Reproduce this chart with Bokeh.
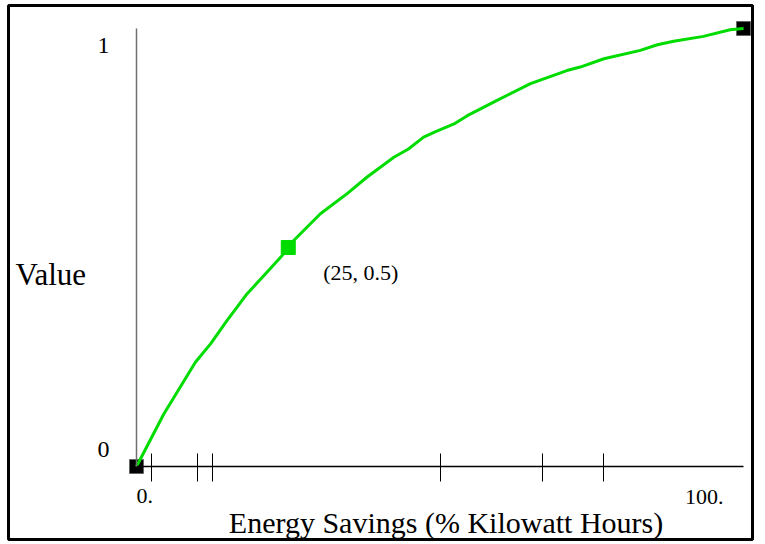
from bokeh.plotting import figure
from bokeh.models import Range1d, LinearAxis, FixedTicker, Label
from bokeh.embed import file_html
from bokeh.resources import INLINE

# curve data (Energy Savings % vs Value)
x_vals = [0, 4.5, 9.7, 12.2, 14.9, 18.2, 21.0, 24.0, 25, 25.9, 30.3, 34.7, 38.0,
          42.4, 44.8, 47.3, 49.0, 52.3, 54.5, 59.4, 64.9, 70.9, 73.1, 77.0, 83.0,
          85.8, 88.5, 93.4, 97.8, 100]
y_vals = [0, 0.120, 0.238, 0.280, 0.333, 0.394, 0.436, 0.482, 0.5, 0.516, 0.577,
          0.623, 0.661, 0.706, 0.725, 0.752, 0.763, 0.782, 0.801, 0.836, 0.874,
          0.904, 0.912, 0.931, 0.950, 0.963, 0.971, 0.982, 0.997, 1.0]

end_x = [0, 100]
end_y = [0, 1]
mid_x = [25]
mid_y = [0.5]
mid_label = "(25, 0.5)"

x_ticks = [2.5, 10, 12.5, 50, 66.9, 77]
x_tick_labels = ["0.", "100."]
y_tick_labels = ["0", "1"]
x_title = "Energy Savings (% Kilowatt Hours)"
y_title = "Value"

FONT = "Liberation Serif"
GREEN = "#00dc00"

p = figure(width=760, height=542, output_backend="svg", toolbar_location=None,
           x_range=Range1d(-21.087, 101.48), y_range=Range1d(-0.16667, 1.05251),
           x_axis_type=None, y_axis_type=None,
           min_border_left=8, min_border_right=8, min_border_top=5, min_border_bottom=3,
           background_fill_color="white", border_fill_color="white")
p.grid.visible = False
p.outline_line_color = "black"
p.outline_line_width = 3

# x axis at y=0
xa = LinearAxis(fixed_location=0, bounds=(0, 100), ticker=FixedTicker(ticks=x_ticks))
xa.axis_line_color = "black"
xa.axis_line_width = 1.5
xa.major_tick_in = 13
xa.major_tick_out = 15
xa.major_tick_line_color = "black"
xa.major_tick_line_width = 1
xa.minor_tick_line_color = None
xa.major_label_text_color = None
p.add_layout(xa, "below")

# y axis at x=0
ya = LinearAxis(fixed_location=0, bounds=(0, 1), ticker=FixedTicker(ticks=[]))
ya.axis_line_color = "#707070"
ya.axis_line_width = 1.5
ya.major_tick_line_color = None
ya.minor_tick_line_color = None
ya.major_label_text_color = None
p.add_layout(ya, "left")

p.scatter(end_x, end_y, marker="square", size=14, fill_color="black", line_color="#666666", line_width=1)
p.line(x_vals, y_vals, line_color=GREEN, line_width=3)
p.scatter(mid_x, mid_y, marker="square", size=14, fill_color=GREEN, line_color=GREEN)

def lab(text, x, y, dx, dy, size, align="left"):
    p.add_layout(Label(x=x, y=y, x_offset=dx, y_offset=dy, text=text,
                       text_font=FONT, text_font_size=size, text_color="black",
                       text_align=align, text_baseline="alphabetic"))

lab(mid_label, mid_x[0], mid_y[0], 35, -25, "22px")
lab(x_tick_labels[0], 0, 0, 0, -30, "22px", "left")
lab(x_tick_labels[1], 100, 0, -20, -31, "22px", "right")
lab(y_tick_labels[0], 0, 0, -33, 17, "24px", "center")
lab(y_tick_labels[1], 0, 1, -33, -17, "24px", "center")
lab(y_title, 0, 0.5, -121, -27, "31px", "left")
lab(x_title, 50, 0, 6, -56, "30px", "center")

open("out.html", "w").write(file_html(p, INLINE))
